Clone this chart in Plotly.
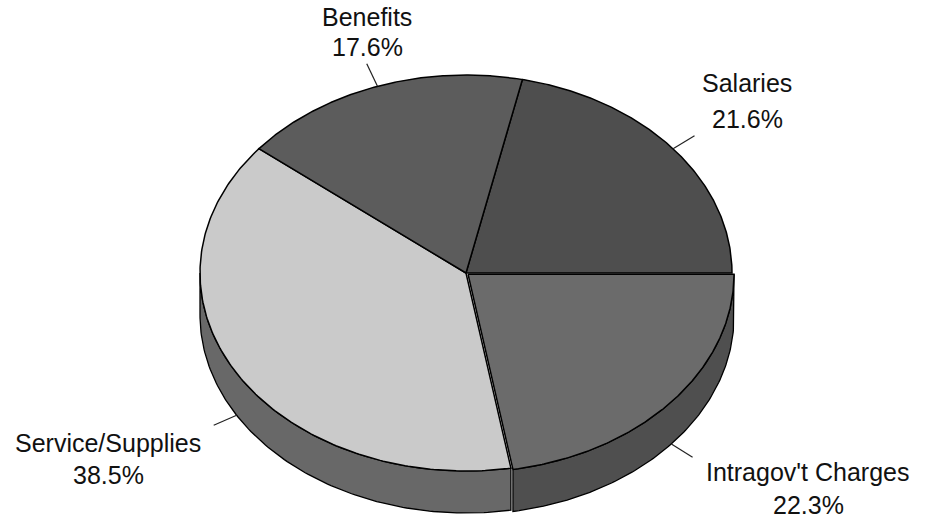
import numpy as np
import plotly.graph_objects as go

# Budget shares (percent), drawn clockwise from the 3 o'clock boundary backwards
labels = ["Salaries", "Intragov't Charges", "Service/Supplies", "Benefits"]
shares = [21.6, 22.3, 38.5, 17.6]

# Styling
top_colors = ["#4e4e4e", "#6b6b6b", "#cacaca", "#5c5c5c"]
side_colors = ["#3c3c3c", "#4f4f4f", "#686868", "#474747"]
explode = [0.0, 0.01, 0.0, 0.0]
label_x = [747, 808, 108, 367]
label_y_name = [83, 472, 443, 17]
label_y_pct = [119, 505, 475, 47]

W, H = 927, 522
CX, CY, RX, RY, DEPTH = 466, 273, 266, 198, 42
LEADER = 25

total = float(sum(shares))
spans = [360.0 * s / total for s in shares]
start = spans[0]  # first slice ends exactly at 0 deg (3 o'clock)


def ell(t_deg, dx=0.0, dy=0.0, drop=0.0):
    t = np.radians(t_deg)
    return CX + dx + RX * np.cos(t), CY + dy - RY * np.sin(t) + drop


fig = go.Figure()

bounds = []
a = start
for sp in spans:
    bounds.append((a, a - sp))
    a -= sp

offsets = []
for (a0, a1), e in zip(bounds, explode):
    m = np.radians((a0 + a1) / 2)
    offsets.append((e * RX * np.cos(m), -e * RY * np.sin(m)))

# Side walls (only the front half of the ellipse is visible)
for (a0, a1), (dx, dy), col in zip(bounds, offsets, side_colors):
    lo_s, hi_s = min(a0, a1), max(a0, a1)
    for k in range(-2, 2):
        lo = max(lo_s, -180 + 360 * k)
        hi = min(hi_s, 0 + 360 * k)
        if hi - lo <= 0.01:
            continue
        ts = np.linspace(lo, hi, 120)
        xt, yt = ell(ts, dx, dy)
        xb, yb = ell(ts[::-1], dx, dy, DEPTH)
        xs = np.concatenate([xt, xb, xt[:1]])
        ys = np.concatenate([yt, yb, yt[:1]])
        fig.add_trace(go.Scatter(x=xs, y=ys, mode="lines", fill="toself",
                                 fillcolor=col, line=dict(color="black", width=1.3),
                                 hoverinfo="skip", showlegend=False))

# Top faces
for (a0, a1), (dx, dy), col, name in zip(bounds, offsets, top_colors, labels):
    ts = np.linspace(a0, a1, 200)
    xa, ya = ell(ts, dx, dy)
    xs = np.concatenate([[CX + dx], xa, [CX + dx]])
    ys = np.concatenate([[CY + dy], ya, [CY + dy]])
    fig.add_trace(go.Scatter(x=xs, y=ys, mode="lines", fill="toself",
                             fillcolor=col, line=dict(color="black", width=1.5),
                             name=name, hoverinfo="name", showlegend=False))

# Leader lines and labels
for i, ((a0, a1), (dx, dy)) in enumerate(zip(bounds, offsets)):
    m = (a0 + a1) / 2
    front = np.sin(np.radians(m)) < 0
    x0, y0 = ell(m, dx, dy, DEPTH if front else 0)
    ux, uy = RX * np.cos(np.radians(m)), -RY * np.sin(np.radians(m))
    n = np.hypot(ux, uy)
    x1, y1 = x0 + LEADER * ux / n, y0 + LEADER * uy / n
    fig.add_trace(go.Scatter(x=[x0, x1], y=[y0, y1], mode="lines",
                             line=dict(color="#222222", width=1.2),
                             hoverinfo="skip", showlegend=False))
    for txt, yy in ((labels[i], label_y_name[i]), (f"{shares[i]:.1f}%", label_y_pct[i])):
        fig.add_annotation(x=label_x[i], y=yy, xref="x", yref="y", text=txt,
                           showarrow=False, xanchor="center", yanchor="middle",
                           font=dict(family="Liberation Sans, Arial, sans-serif",
                                     size=25, color="#111111"))

fig.update_layout(
    width=W, height=H, autosize=False,
    margin=dict(l=0, r=0, t=0, b=0),
    paper_bgcolor="white", plot_bgcolor="white",
    xaxis=dict(range=[0, W], visible=False, fixedrange=True),
    yaxis=dict(range=[H, 0], visible=False, fixedrange=True),
)

fig.write_html("out.html")
